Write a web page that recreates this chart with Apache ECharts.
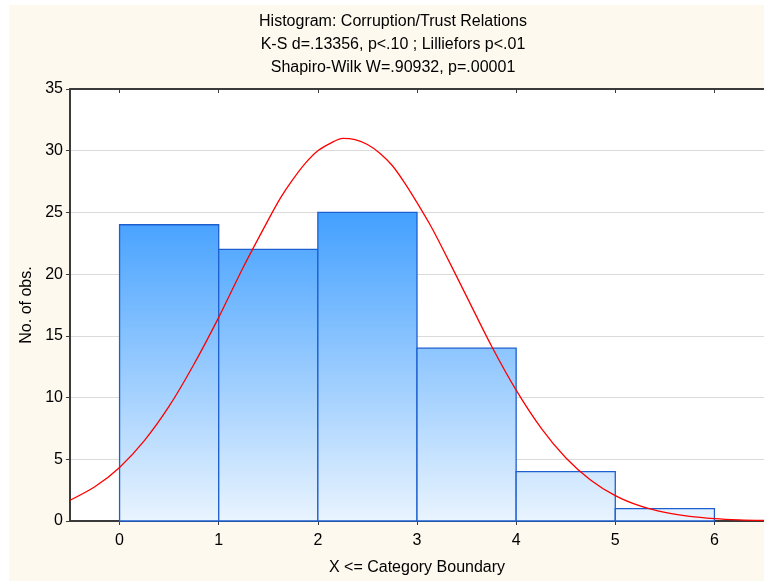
<!DOCTYPE html>
<html>
<head>
<meta charset="utf-8">
<script src="https://cdn.jsdelivr.net/npm/echarts@6/dist/echarts.min.js"></script>
<style>
html,body{margin:0;padding:0;background:#ffffff;}
#bg{position:absolute;left:9px;top:5px;width:755px;height:576px;background:#fdf9ef;}
#chart{position:absolute;left:0;top:0;width:764px;height:581px;}
</style>
</head>
<body>
<div id="bg"></div>
<div id="chart"></div>
<script>
// Histogram bins
var binStart = [0, 1, 2, 3, 4, 5];
var binEnd   = [1, 2, 3, 4, 5, 6];
var counts   = [24, 22, 25, 14, 4, 1];
// Expected normal curve
var curveX = [-0.5,-0.25,0,0.25,0.5,0.75,1,1.25,1.5,1.625,1.75,1.875,2,2.125,2.25,2.375,2.5,2.625,2.75,2.875,3,3.125,3.25,3.5,3.75,4,4.25,4.5,4.75,5,5.25,5.5,5.75,6,6.25,6.5];
var curveY = [1.68,2.77,4.34,6.51,9.3,12.7,16.5,20.6,24.4,26.2,27.7,29.0,30.0,30.6,31.0,30.9,30.5,29.8,28.8,27.4,25.8,24.1,22.2,18.2,14.2,10.6,7.55,5.13,3.33,2.06,1.22,0.69,0.37,0.19,0.09,0.04];
var xTicks = [0, 1, 2, 3, 4, 5, 6];
var titleLines = ['Histogram: Corruption/Trust Relations', 'K-S d=.13356, p<.10 ; Lilliefors p<.01', 'Shapiro-Wilk W=.90932, p=.00001'];
var xName = 'X <= Category Boundary';
var yName = 'No. of obs.';

var FONT = 'Liberation Sans, Arial, sans-serif';
var FS = 16;
var chart = echarts.init(document.getElementById('chart'), null, {renderer: 'canvas'});

var barData = binStart.map(function (s, i) { return [s, binEnd[i], counts[i]]; });
var lineData = curveX.map(function (x, i) { return [x, curveY[i]]; });

var option = {
  backgroundColor: 'transparent',
  animation: false,
  graphic: titleLines.map(function (t, i) {
    return {
      type: 'text', x: 393, y: 22 + i * 23,
      style: {text: t, textAlign: 'center', textVerticalAlign: 'middle', fontFamily: FONT, fontSize: FS, fill: '#000'}
    };
  }),
  grid: {left: 70, top: 89, width: 696, height: 432, show: true, backgroundColor: '#ffffff', borderWidth: 0},
  xAxis: [{
    type: 'value', min: -0.5, max: 6.5, position: 'bottom',
    name: xName, nameLocation: 'middle', nameGap: 39,
    nameTextStyle: {fontFamily: FONT, fontSize: FS, color: '#000'},
    axisLine: {show: true, onZero: false, lineStyle: {color: '#3a3a3a', width: 2}},
    axisTick: {show: true, inside: false, length: 4, customValues: xTicks, lineStyle: {color: '#3a3a3a'}},
    axisLabel: {customValues: xTicks, fontFamily: FONT, fontSize: FS, color: '#000', margin: 12},
    splitLine: {show: false}
  }, {
    type: 'value', min: -0.5, max: 6.5, position: 'top',
    axisLine: {show: true, onZero: false, lineStyle: {color: '#3a3a3a', width: 2}},
    axisTick: {show: true, inside: true, length: 4, customValues: xTicks, lineStyle: {color: '#3a3a3a'}},
    axisLabel: {show: false},
    splitLine: {show: false}
  }],
  yAxis: {
    type: 'value', min: 0, max: 35, interval: 5,
    name: yName, nameLocation: 'middle', nameGap: 33, nameRotate: 90,
    nameTextStyle: {fontFamily: FONT, fontSize: FS, color: '#000'},
    axisLine: {show: true, onZero: false, lineStyle: {color: '#3a3a3a', width: 2}},
    axisTick: {show: true, inside: false, length: 4, lineStyle: {color: '#3a3a3a'}},
    axisLabel: {fontFamily: FONT, fontSize: FS, color: '#000', margin: 7},
    splitLine: {show: true, lineStyle: {color: '#dadada', width: 1}}
  },
  series: [{
    type: 'custom',
    xAxisIndex: 0,
    data: barData,
    z: 2,
    renderItem: function (params, api) {
      var p0 = api.coord([api.value(0), api.value(2)]);
      var p1 = api.coord([api.value(1), 0]);
      var top25 = api.coord([0, 25]);
      var bottom = api.coord([0, 0]);
      return {
        type: 'rect',
        shape: {x: p0[0], y: p0[1], width: p1[0] - p0[0], height: p1[1] - p0[1]},
        style: {
          fill: new echarts.graphic.LinearGradient(0, top25[1], 0, bottom[1], [
            {offset: 0, color: '#43a0ff'},
            {offset: 1, color: '#e9f4fe'}
          ], true),
          stroke: '#1d5fd0', lineWidth: 1.3
        }
      };
    }
  }, {
    type: 'line',
    xAxisIndex: 0,
    data: lineData,
    smooth: 0.3,
    symbol: 'none',
    z: 5,
    lineStyle: {color: '#ff0000', width: 1.3}
  }]
};
chart.setOption(option);
</script>
</body>
</html>
